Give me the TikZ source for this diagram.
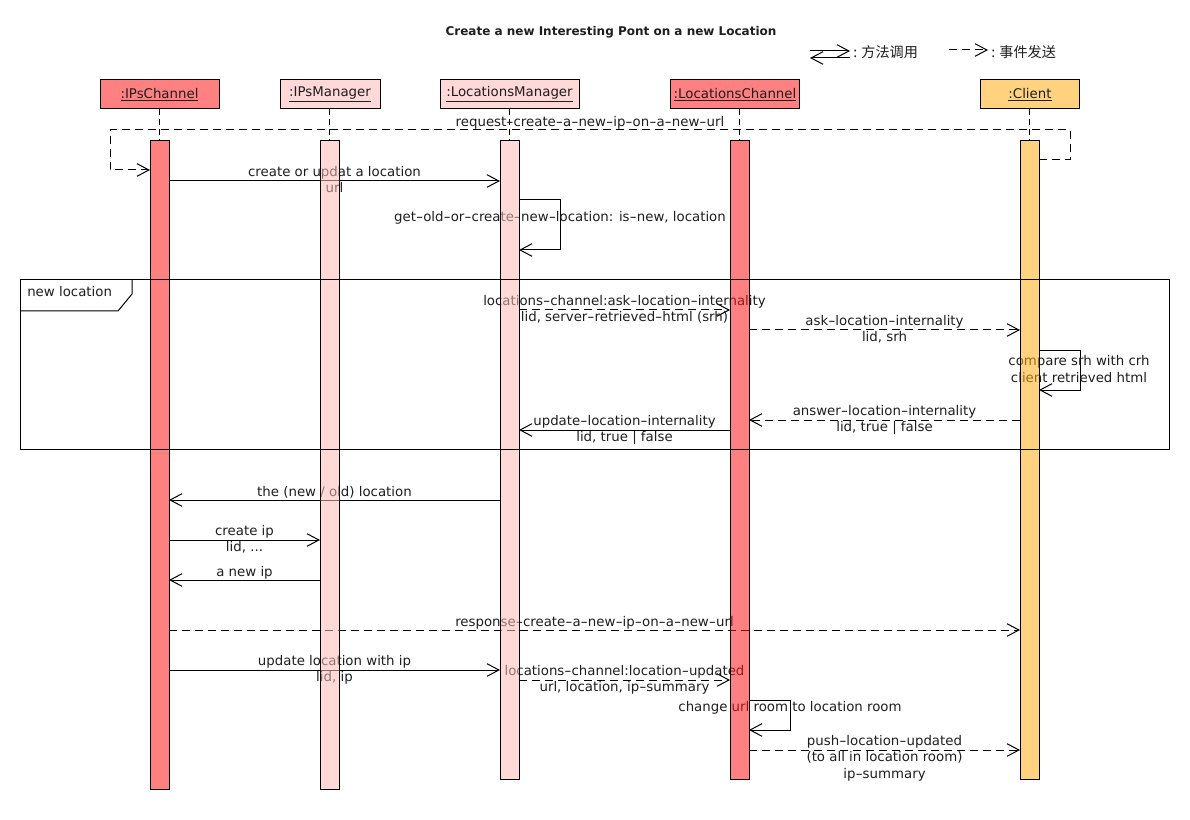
\documentclass[tikz,border=0pt]{standalone}
\usepackage{fontspec}
\setmainfont{DejaVu Sans}
\newfontfamily\cjk{Noto Sans CJK SC}
\usetikzlibrary{arrows.meta,fit}
\newcommand\hy{\scalebox{1.5}[1]{-}}
\definecolor{redA}{RGB}{255,128,128}
\definecolor{pinkA}{RGB}{255,216,216}
\definecolor{yelA}{RGB}{255,210,128}
\definecolor{redB}{RGB}{255,24,24}
\definecolor{pinkB}{RGB}{255,184,184}
\definecolor{yelB}{RGB}{255,173,24}
\definecolor{txt}{RGB}{30,30,30}
\begin{document}
\begin{tikzpicture}[x=0.75pt,y=-0.75pt,
  every node/.style={font=\fontsize{10}{12.4}\selectfont, text=txt},
  head/.style={draw, line width=0.75pt, minimum height=21.75pt, inner sep=0pt, outer sep=0pt},
  life/.style={draw, dash pattern=on 4.5pt off 3pt, line width=0.75pt},
  actbar/.style={draw, line width=0.75pt, fill opacity=0.55, inner sep=0pt, outer sep=0pt},
  msg/.style={line width=0.75pt, -{Straight Barb[length=9pt,width=9.5pt]}},
  evt/.style={msg, dash pattern=on 6pt off 3.75pt},
  lbl/.style={align=center, anchor=north, inner sep=0pt, execute at begin node=\strut},
  mlbl/.style={lbl, midway, yshift=11.7pt},
  legtxt/.style={anchor=west, inner sep=0pt, font=\cjk\fontsize{10.6}{12}\selectfont},
]
\useasboundingbox (0,0) rectangle (1190,820);

% title and legend
\node[font=\bfseries\fontsize{9}{11}\selectfont] (title) at (611,32) {Create a new Interesting Pont on a new Location};
\coordinate (lgA1) at (810,51);
\coordinate (lgA2) at (850,51);
\coordinate (lgB1) at (850,58);
\coordinate (lgB2) at (810,58);
\draw[msg] (lgA1) -- (lgA2);
\draw[msg] (lgB1) -- (lgB2);
\node[legtxt] (lgT1) at (853,52) {: 方法调用};
\coordinate (lgC1) at (949,50);
\coordinate (lgC2) at (988,50);
\draw[evt] (lgC1) -- (lgC2);
\node[legtxt] (lgT2) at (991,52) {: 事件发送};

% heads
\node[head, fill=redA, minimum width=89.25pt] (hIPC) at (159.5,94.5) {\underline{:IPsChannel}};
\node[head, fill=pinkA, minimum width=75pt] (hIPM) at (330,94.5) {\underline{:IPsManager}};
\node[head, fill=pinkA, minimum width=104.25pt] (hLM) at (509.5,94.5) {\underline{:LocationsManager}};
\node[head, fill=redA, minimum width=96.75pt] (hLC) at (735,94.5) {\underline{:LocationsChannel}};
\node[head, fill=yelA, minimum width=74.25pt] (hCL) at (1030,94.5) {\underline{:Client}};

% bars (positions only, drawn later)
\path node[inner sep=0pt, outer sep=0pt, fit={(150,141)(169,789)}] (bIPC) {};
\path node[inner sep=0pt, outer sep=0pt, fit={(320,141)(339,789)}] (bIPM) {};
\path node[inner sep=0pt, outer sep=0pt, fit={(500,141)(519,779)}] (bLM) {};
\path node[inner sep=0pt, outer sep=0pt, fit={(730,141)(749,779)}] (bLC) {};
\path node[inner sep=0pt, outer sep=0pt, fit={(1020,141)(1039,779)}] (bCL) {};

% lifelines
\draw[life] (bIPC.north |- hIPC.south) -- (bIPC.north);
\draw[life] (bIPM.north |- hIPM.south) -- (bIPM.north);
\draw[life] (bLM.north |- hLM.south) -- (bLM.north);
\draw[life] (bLC.north |- hLC.south) -- (bLC.north);
\draw[life] (bCL.north |- hCL.south) -- (bCL.north);

% messages
\draw[evt] (bCL.east |- 0,160) -- (1070,160) -- (1070,130) -- (110,130) -- (110,170) -- (bIPC.west |- 0,170);
\node[lbl] (tReq) at (590,115) {request\hy create\hy a\hy new\hy ip\hy on\hy a\hy new\hy url};

\draw[msg] (bIPC.east |- 0,181) -- node[mlbl] (t1) {create or updat a location\\url} (bLM.west |- 0,181);

\draw[msg] (bLM.east |- 0,200) -- ++(41,0) -- ++(0,50) -- (bLM.east |- 0,250);
\node[lbl] (t2) at (560,209.4) {get\hy old\hy or\hy create\hy new\hy location: is\hy new, location};

\draw[evt] (bLM.east |- 0,310) -- node[mlbl] (t3) {locations\hy channel:ask\hy location\hy internality\\lid, server\hy retrieved\hy html (srh)} (bLC.west |- 0,310);
\draw[evt] (bLC.east |- 0,330) -- node[mlbl] (t4) {ask\hy location\hy internality\\lid, srh} (bCL.west |- 0,330);

\draw[msg] (bCL.east |- 0,350) -- ++(41,0) -- ++(0,40) -- (bCL.east |- 0,390);
\node[lbl] (t5) at (1079,355.1) {compare srh with crh\\client retrieved html};

\draw[evt] (bCL.west |- 0,420) -- node[mlbl] (t6) {answer\hy location\hy internality\\lid, true | false} (bLC.east |- 0,420);
\draw[msg] (bLC.west |- 0,430) -- node[mlbl] (t7) {update\hy location\hy internality\\lid, true | false} (bLM.east |- 0,430);

\draw[msg] (bLM.west |- 0,500) -- node[mlbl] (t8) {the (new / old) location} (bIPC.east |- 0,500);
\draw[msg] (bIPC.east |- 0,540) -- node[mlbl] (t9) {create ip\\lid, ...} (bIPM.west |- 0,540);
\draw[msg] (bIPM.west |- 0,580) -- node[mlbl] (t10) {a new ip} (bIPC.east |- 0,580);
\draw[evt] (bIPC.east |- 0,630) -- node[mlbl] (t11) {response\hy create\hy a\hy new\hy ip\hy on\hy a\hy new\hy url} (bCL.west |- 0,630);
\draw[msg] (bIPC.east |- 0,670) -- node[mlbl] (t12) {update location with ip\\lid, ip} (bLM.west |- 0,670);
\draw[evt] (bLM.east |- 0,680) -- node[mlbl] (t13) {locations\hy channel:location\hy updated\\url, location, ip\hy summary} (bLC.west |- 0,680);

\draw[msg] (bLC.east |- 0,700) -- ++(41,0) -- ++(0,30) -- (bLC.east |- 0,730);
\node[lbl] (t14) at (790,700.1) {change url room to location room};

\draw[evt] (bLC.east |- 0,750) -- node[mlbl] (t15) {push\hy location\hy updated\\(to all in location room)\\ip\hy summary} (bCL.west |- 0,750);

% activation bars
\draw[actbar, fill=redB] (bIPC.north west) rectangle (bIPC.south east);
\draw[actbar, fill=pinkB] (bIPM.north west) rectangle (bIPM.south east);
\draw[actbar, fill=pinkB] (bLM.north west) rectangle (bLM.south east);
\draw[actbar, fill=redB] (bLC.north west) rectangle (bLC.south east);
\draw[actbar, fill=yelB] (bCL.north west) rectangle (bCL.south east);

% frame
\node[draw, line width=0.75pt, inner sep=0pt, outer sep=0pt, fit={(20,280)(1169,449)}] (frm) {};
\draw[line width=0.75pt] (20,311) -- (118,311) -- (132,294) -- (132,280);
\node[anchor=base west, inner sep=0pt] (frmlbl) at (27,296.7) {new location};
\end{tikzpicture}
\end{document}
